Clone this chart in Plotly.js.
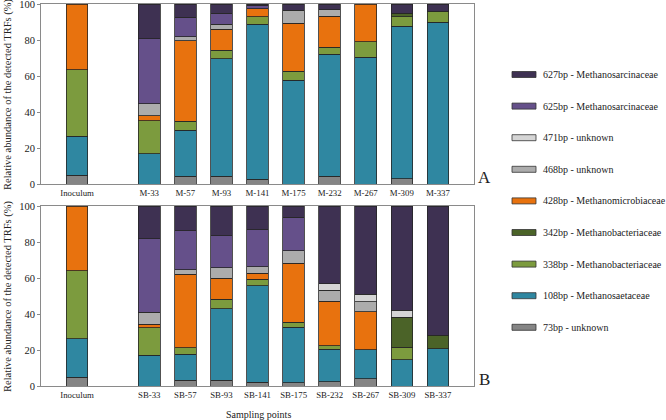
<!DOCTYPE html>
<html>
<head>
<meta charset="utf-8">
<script src="https://cdn.plot.ly/plotly-3.0.1.min.js"></script>
<style>html,body{margin:0;padding:0;background:#fff;}#chart{width:666px;height:420px;}</style>
</head>
<body>
<div id="chart"></div>
<script>
// ---- Data ----
var topCats = ['Inoculum','M-33','M-57','M-93','M-141','M-175','M-232','M-267','M-309','M-337'];
var botCats = ['Inoculum','SB-33','SB-57','SB-93','SB-141','SB-175','SB-232','SB-267','SB-309','SB-337'];

var seriesNames = ['73bp - unknown','108bp - Methanosaetaceae','338bp - Methanobacteriaceae','342bp - Methanobacteriaceae','428bp - Methanomicrobiaceae','468bp - unknown','471bp - unknown','625bp - Methanosarcinaceae','627bp - Methanosarcinaceae'];
var seriesColors = ['#858585','#2f87a1','#7c9b3e','#4b6328','#e8720e','#acacac','#d5d5d5','#65508a','#3e3152'];

// Panel A
var a73  = [4.8, 0, 4.3, 4.3, 2.6, 0, 4.3, 0, 3.0, 0];
var a108 = [21.7, 16.7, 25.5, 65.3, 86.1, 57.6, 67.7, 70.4, 84.6, 89.8];
var a338 = [37.1, 18.5, 5.0, 4.7, 4.3, 5.0, 3.9, 8.5, 5.2, 6.3];
var a342 = [0, 0, 0, 0, 0, 0, 0, 0, 2.2, 0];
var a428 = [36.4, 2.6, 44.8, 11.8, 4.4, 26.7, 17.4, 21.1, 0, 0];
var a468 = [0, 6.8, 2.1, 2.6, 0, 7.2, 3.4, 0, 0, 0];
var a471 = [0, 0, 0, 0, 0, 0, 0, 0, 0, 0];
var a625 = [0, 36.1, 10.9, 6.1, 1.5, 0, 0, 0, 0, 0];
var a627 = [0, 19.3, 7.4, 5.2, 1.1, 3.5, 3.3, 0, 5.0, 3.9];

// Panel B
var b73  = [4.8, 0, 3.3, 3.1, 2.0, 1.9, 2.4, 4.1, 0, 0];
var b108 = [21.5, 17.0, 14.3, 39.9, 53.6, 30.7, 18.0, 16.1, 14.6, 20.7];
var b338 = [37.8, 15.4, 3.7, 5.1, 3.8, 2.8, 2.0, 0, 6.9, 0];
var b342 = [0, 0, 0, 0, 0, 0, 0, 0, 16.8, 7.6];
var b428 = [35.9, 1.9, 40.7, 11.9, 3.2, 32.7, 24.8, 21.1, 0, 0];
var b468 = [0, 6.8, 2.6, 5.7, 3.7, 7.1, 6.1, 5.4, 0, 0];
var b471 = [0, 0, 0, 0, 0, 0, 3.4, 4.2, 3.9, 0];
var b625 = [0, 40.6, 21.7, 17.8, 20.6, 18.5, 0, 0, 0, 0];
var b627 = [0, 18.3, 13.7, 16.5, 13.1, 6.3, 43.3, 49.1, 57.8, 71.7];

var topSeries = [a73, a108, a338, a342, a428, a468, a471, a625, a627];
var botSeries = [b73, b108, b338, b342, b428, b468, b471, b625, b627];

var yTitle = 'Relative abundance of the detected TRFs (%)';
var xTitle = 'Sampling points';
var panelLabels = ['A', 'B'];

// ---- Build ----
var W = 666, H = 420;
function px(x){ return x / W; }
function py(y){ return 1 - y / H; }

// slot positions: Inoculum, one empty slot, then the sampling points
var xPos = topCats.map(function(c, i){ return i === 0 ? 1 : i + 2; });

var font = 'Liberation Serif';
var textColor = '#222222';
var frame = '#8a8a8a';

var traces = [];
function addPanel(seriesList, xa, ya, cats){
  seriesList.forEach(function(vals, s){
    traces.push({
      type: 'bar',
      name: seriesNames[s],
      x: xPos,
      y: vals.map(function(v){ return v === 0 ? null : v; }),
      customdata: cats,
      hovertemplate: '%{customdata}: %{y}%<extra>' + seriesNames[s] + '</extra>',
      xaxis: xa, yaxis: ya,
      width: 0.6,
      showlegend: false,
      marker: {color: seriesColors[s], line: {color: '#262626', width: 0.8}}
    });
  });
}
addPanel(topSeries, 'x', 'y', topCats);
addPanel(botSeries, 'x2', 'y2', botCats);

var xDom = [px(41), px(474)];
function xAxis(anchor, cats){
  return {
    domain: xDom, anchor: anchor, range: [0, 12],
    tickmode: 'array', tickvals: xPos, ticktext: cats, tickangle: 0,
    showline: true, mirror: true, linecolor: frame, linewidth: 1,
    ticks: '', showgrid: false, zeroline: false,
    tickfont: {family: font, size: 8.8, color: textColor}
  };
}
function yAxis(anchor, dom){
  return {
    domain: dom, anchor: anchor, range: [0, 100], dtick: 20,
    showline: true, mirror: true, linecolor: frame, linewidth: 1,
    ticks: 'outside', ticklen: 3, tickcolor: frame,
    ticklabeloverflow: 'allow',
    showgrid: false, zeroline: false,
    tickfont: {family: font, size: 10.5, color: textColor}
  };
}

var shapes = [], annotations = [];
// legend drawn from the series arrays (top-to-bottom = reverse stack order)
var legTop = 74.5, legStep = 31.6;
for (var k = 0; k < seriesNames.length; k++){
  var s = seriesNames.length - 1 - k;
  var yc = legTop + k * legStep;
  shapes.push({type: 'rect', xref: 'paper', yref: 'paper',
    x0: px(512), x1: px(536), y0: py(yc + 3), y1: py(yc - 3),
    fillcolor: seriesColors[s], line: {color: '#333333', width: 0.8}});
  annotations.push({xref: 'paper', yref: 'paper', x: px(541), y: py(yc),
    xanchor: 'left', yanchor: 'middle', showarrow: false, text: seriesNames[s],
    font: {family: font, size: 10, color: textColor}});
}
// y-axis titles (one per panel)
[94, 296].forEach(function(yc){
  annotations.push({xref: 'paper', yref: 'paper', x: px(8), y: py(yc), xanchor: 'center', yanchor: 'middle',
    textangle: -90, showarrow: false, text: yTitle, font: {family: font, size: 10.5, color: textColor}});
});
annotations.push({xref: 'paper', yref: 'paper', x: px(484), y: py(177), xanchor: 'center', yanchor: 'middle',
  showarrow: false, text: panelLabels[0], font: {family: font, size: 17, color: textColor}});
annotations.push({xref: 'paper', yref: 'paper', x: px(484), y: py(379.5), xanchor: 'center', yanchor: 'middle',
  showarrow: false, text: panelLabels[1], font: {family: font, size: 17, color: textColor}});
annotations.push({xref: 'paper', yref: 'paper', x: px(258), y: py(414), xanchor: 'center', yanchor: 'middle',
  showarrow: false, text: xTitle, font: {family: font, size: 10, color: textColor}});

var layout = {
  width: W, height: H,
  margin: {l: 0, r: 0, t: 0, b: 0},
  paper_bgcolor: '#ffffff', plot_bgcolor: '#ffffff',
  barmode: 'stack',
  showlegend: false,
  font: {family: font, size: 11, color: textColor},
  xaxis: xAxis('y', topCats),
  yaxis: yAxis('x', [py(184), py(4)]),
  xaxis2: xAxis('y2', botCats),
  yaxis2: yAxis('x2', [py(386), py(206)]),
  shapes: shapes,
  annotations: annotations
};

Plotly.newPlot('chart', traces, layout, {displayModeBar: false, staticPlot: true});
</script>
</body>
</html>
